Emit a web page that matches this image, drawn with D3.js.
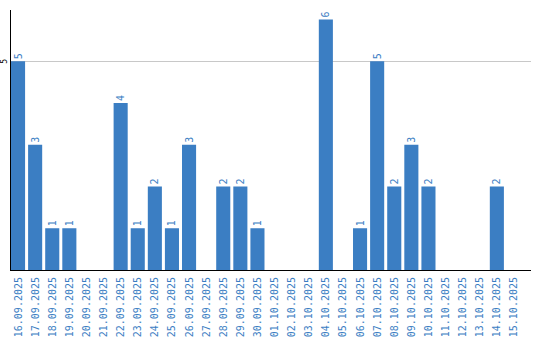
<!DOCTYPE html>
<html>
<head>
<meta charset="utf-8">
<script src="https://cdn.jsdelivr.net/npm/d3@7"></script>
<style>
  body { margin: 0; background: #fff; }
  svg { display: block; }
</style>
</head>
<body>
<div id="chart"></div>
<script>
// daily counts, 16.09.2025 - 15.10.2025
const dates = [
  '16.09.2025', '17.09.2025', '18.09.2025', '19.09.2025', '20.09.2025',
  '21.09.2025', '22.09.2025', '23.09.2025', '24.09.2025', '25.09.2025',
  '26.09.2025', '27.09.2025', '28.09.2025', '29.09.2025', '30.09.2025',
  '01.10.2025', '02.10.2025', '03.10.2025', '04.10.2025', '05.10.2025',
  '06.10.2025', '07.10.2025', '08.10.2025', '09.10.2025', '10.10.2025',
  '11.10.2025', '12.10.2025', '13.10.2025', '14.10.2025', '15.10.2025'
];
const counts = [5, 3, 1, 1, 0, 0, 4, 1, 2, 1, 3, 0, 2, 2, 1, 0, 0, 0, 6, 0, 1, 5, 2, 3, 2, 0, 0, 0, 2, 0];
const yTicks = [5];

const width = 540, height = 340;
const left = 11, base = 270, step = 17;
const blue = '#3b7ec3';

const svg = d3.select('#chart').append('svg')
  .attr('width', width)
  .attr('height', height);

const x = d3.scaleBand()
  .domain(dates)
  .range([left, left + step * dates.length])
  .paddingInner(3 / 17)
  .paddingOuter(0)
  .align(0);

const y = d3.scaleLinear()
  .domain([0, 6])
  .range([base, 19.5]);

// grid line
svg.selectAll('line.grid')
  .data(yTicks)
  .join('line')
  .attr('class', 'grid')
  .attr('x1', left).attr('x2', 531)
  .attr('y1', d => Math.round(y(d)) + 0.5).attr('y2', d => Math.round(y(d)) + 0.5)
  .attr('stroke', '#c8c8c8');

// tick labels
svg.selectAll('text.ytick')
  .data(yTicks)
  .join('text')
  .attr('class', 'ytick')
  .attr('transform', d => `translate(7, ${y(d)}) rotate(-90)`)
  .attr('text-anchor', 'middle')
  .style('font-family', 'DejaVu Sans Mono, monospace')
  .style('font-size', '8px')
  .attr('fill', '#000')
  .text(d => d);

// bars
svg.selectAll('rect.bar')
  .data(counts)
  .join('rect')
  .attr('class', 'bar')
  .attr('x', (d, i) => x(dates[i]))
  .attr('y', d => y(d))
  .attr('width', x.bandwidth())
  .attr('height', d => base - y(d))
  .attr('fill', blue);

// value labels
svg.selectAll('text.val')
  .data(counts.map((v, i) => ({ v, i })).filter(d => d.v > 0))
  .join('text')
  .attr('class', 'val')
  .attr('transform', d => `translate(${x(dates[d.i]) + x.bandwidth() / 2 + 3.5}, ${y(d.v) - 2}) rotate(-90)`)
  .attr('text-anchor', 'start')
  .style('font-family', 'DejaVu Sans Mono, monospace')
  .style('font-size', '10px')
  .attr('fill', blue)
  .text(d => d.v);

// axes
svg.append('line')
  .attr('x1', left - 0.5).attr('x2', left - 0.5)
  .attr('y1', 10).attr('y2', base + 1)
  .attr('stroke', '#000').attr('stroke-width', 1);
svg.append('line')
  .attr('x1', left - 1).attr('x2', 531)
  .attr('y1', base + 0.5).attr('y2', base + 0.5)
  .attr('stroke', '#000').attr('stroke-width', 1);

// date labels
svg.selectAll('text.date')
  .data(dates)
  .join('text')
  .attr('class', 'date')
  .attr('transform', d => `translate(${x(d) + x.bandwidth() / 2 + 3.5}, 277) rotate(-90)`)
  .attr('text-anchor', 'end')
  .style('font-family', 'DejaVu Sans Mono, monospace')
  .style('font-size', '10px')
  .attr('fill', blue)
  .text(d => d);
</script>
</body>
</html>
